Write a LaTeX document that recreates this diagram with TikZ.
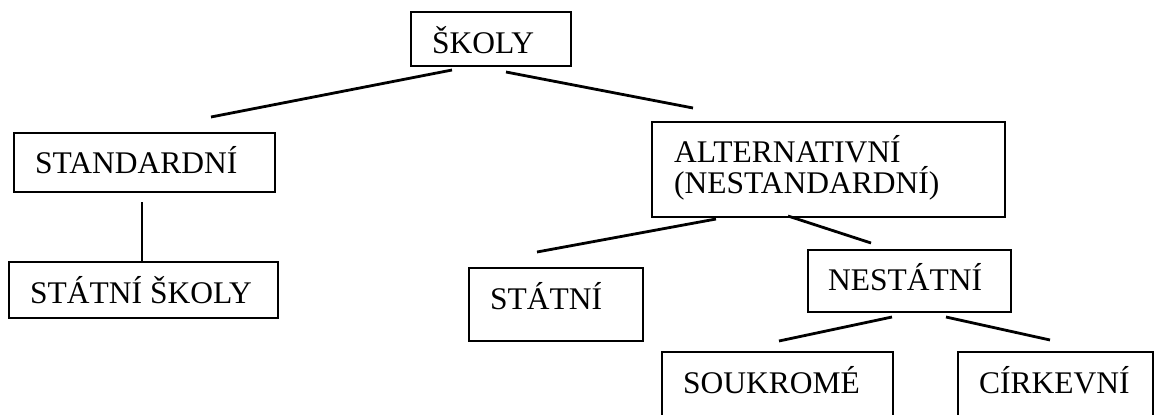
\documentclass[tikz,border=0pt]{standalone}
\usepackage{fontspec}
\setmainfont{Liberation Serif}
\begin{document}
\begin{tikzpicture}[x=1pt,y=-1pt,
  box/.style={draw, line width=1.4pt, rectangle, inner sep=0pt},
  txt/.style={anchor=base west, inner sep=0pt, font=\fontsize{31.5}{36}\selectfont},
  conn/.style={line width=2.8pt}]
\useasboundingbox (0,0) rectangle (1154,415);
\clip (0,0) rectangle (1154,415);
% boxes
\node[box, minimum width=160, minimum height=54] (skoly) at (491,39) {};
\node[box, minimum width=261, minimum height=59] (stand) at (144.5,162.5) {};
\node[box, minimum width=269, minimum height=56] (statsk) at (143.5,290) {};
\node[box, minimum width=353, minimum height=95] (alt) at (828.5,169.5) {};
\node[box, minimum width=174, minimum height=73] (stat) at (556,304.5) {};
\node[box, minimum width=203, minimum height=62] (nestat) at (909.5,281) {};
\node[box, minimum width=231, minimum height=90] (souk) at (777.5,397) {};
\node[box, minimum width=195, minimum height=90] (cirk) at (1055.5,397) {};
% texts
\node[txt] (tskoly) at (432,53) {ŠKOLY};
\node[txt] (tstand) at (35,173) {STANDARDNÍ};
\node[txt] (tstatsk) at (30,303) {STÁTNÍ ŠKOLY};
\node[txt] (talt1) at (674,162) {ALTERNATIVNÍ};
\node[txt] (talt2) at (674,193) {(NESTANDARDNÍ)};
\node[txt] (tstat) at (490,309) {STÁTNÍ};
\node[txt] (tnestat) at (828,290) {NESTÁTNÍ};
\node[txt] (tsouk) at (683,393) {SOUKROMÉ};
\node[txt] (tcirk) at (979,393) {CÍRKEVNÍ};
% connector end points
\coordinate (a1) at (452,70);  \coordinate (a2) at (211,117);
\coordinate (b1) at (506,72);  \coordinate (b2) at (693,108);
\coordinate (c1) at (142,202); \coordinate (c2) at (142,262);
\coordinate (d1) at (716,219); \coordinate (d2) at (537,252);
\coordinate (e1) at (788,216); \coordinate (e2) at (871,243);
\coordinate (f1) at (892,317); \coordinate (f2) at (779,341);
\coordinate (g1) at (946,317); \coordinate (g2) at (1050,340);
\draw[conn] (a1) -- (a2);
\draw[conn] (b1) -- (b2);
\draw[conn] (c1) -- (c2);
\draw[conn] (d1) -- (d2);
\draw[conn] (e1) -- (e2);
\draw[conn] (f1) -- (f2);
\draw[conn] (g1) -- (g2);
\end{tikzpicture}
\end{document}
